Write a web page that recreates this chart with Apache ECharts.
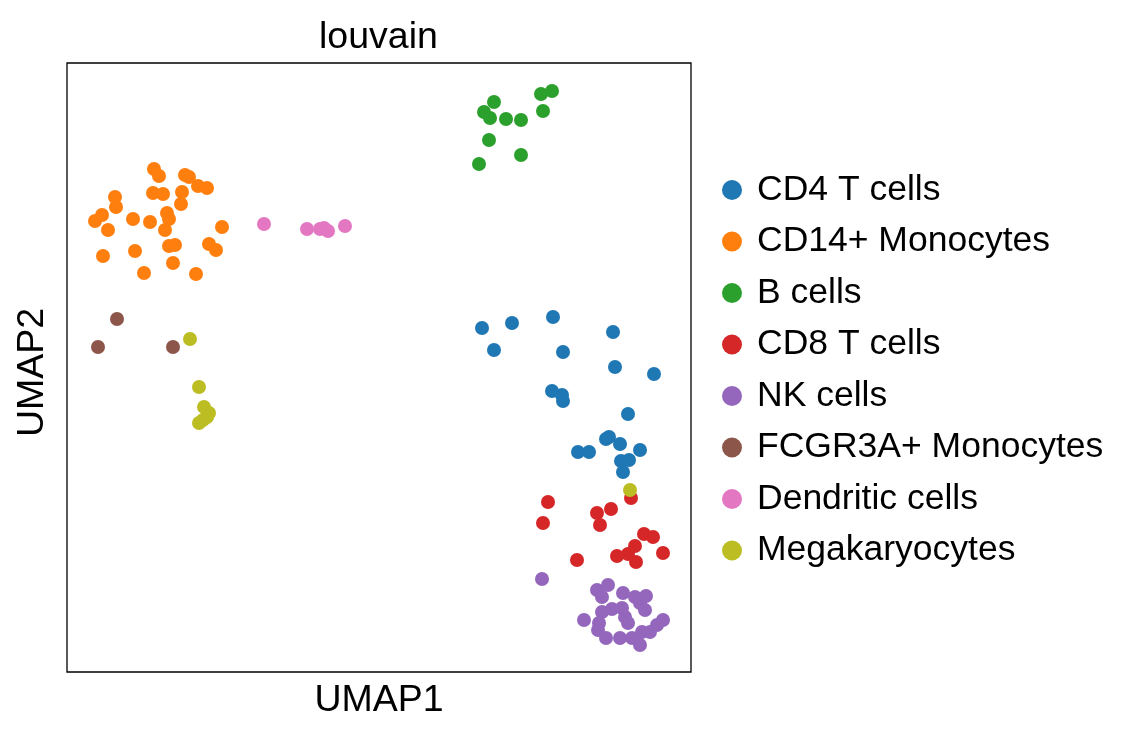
<!DOCTYPE html>
<html>
<head>
<meta charset="utf-8">
<title>louvain</title>
<script src="https://cdn.jsdelivr.net/npm/echarts@6/dist/echarts.min.js"></script>
<style>
html,body{margin:0;padding:0;background:#fff;}
#chart{width:1138px;height:739px;}
</style>
</head>
<body>
<div id="chart"></div>
<script>
// cluster names, in legend order
const clusters = ['CD4 T cells', 'CD14+ Monocytes', 'B cells', 'CD8 T cells',
  'NK cells', 'FCGR3A+ Monocytes', 'Dendritic cells', 'Megakaryocytes'];
const colors = ['#1f77b4', '#ff7f0e', '#2ca02c', '#d62728',
  '#9467bd', '#8c564b', '#e377c2', '#bcbd22'];

// embedding coordinates: [UMAP1, UMAP2]
const cd4T = [[482,328],[512,323],[553,317],[613,332],[494,350],[563,352],[615,367],[654,374],
  [552,391],[562,395],[563,401],[628,414],[606,439],[609,437],[620,444],[640,450],
  [578,452],[589,452],[621,461],[629,460],[623,472]];
const cd14Mono = [[154,169],[159,176],[185,175],[189,177],[198,186],[207,188],[115,197],[116,207],
  [153,193],[163,194],[182,192],[181,204],[102,215],[95,221],[108,230],[133,219],
  [150,222],[167,213],[169,219],[165,230],[222,227],[103,256],[135,251],[169,246],
  [175,245],[209,244],[216,250],[173,263],[144,273],[196,274]];
const bCells = [[494,102],[484,112],[490,118],[506,119],[521,120],[541,94],[552,91],[543,111],
  [489,140],[521,155],[479,164]];
const cd8T = [[548,502],[543,523],[597,513],[611,509],[600,525],[631,498],[644,534],[653,537],
  [635,546],[617,556],[628,554],[636,562],[663,553],[577,560]];
const nkCells = [[542,579],[597,590],[608,585],[602,597],[623,593],[635,597],[646,596],[640,603],
  [645,610],[602,612],[612,609],[622,608],[625,617],[628,623],[584,620],[599,623],
  [598,630],[606,638],[620,638],[632,638],[642,632],[640,645],[650,632],[657,625],[663,620]];
const fcgr3aMono = [[117,319],[98,347],[173,347]];
const dendritic = [[264,224],[307,229],[320,229],[324,228],[328,231],[345,226]];
const megakaryo = [[190,339],[199,387],[204,407],[209,413],[207,417],[199,423],[203,420],[630,490]];

const seriesData = [cd4T, cd14Mono, bCells, cd8T, nkCells, fcgr3aMono, dendritic, megakaryo];

const font = 'Arial, "Liberation Sans", sans-serif';
const chart = echarts.init(document.getElementById('chart'));
chart.setOption({
  animation: false,
  color: colors,
  title: {
    text: 'louvain',
    left: 314,
    top: 14,
    textStyle: {fontFamily: font, fontSize: 37.5, fontWeight: 'normal', color: '#000'}
  },
  legend: {
    orient: 'vertical',
    left: 717,
    top: 167,
    icon: 'circle',
    itemWidth: 20,
    itemHeight: 20,
    itemGap: 15.5,
    data: clusters,
    textStyle: {fontFamily: font, fontSize: 35.5, color: '#000', padding: [0, 0, 0, 10]}
  },
  grid: {
    left: 67,
    top: 63,
    width: 624,
    height: 609,
    show: true,
    borderColor: '#000',
    borderWidth: 1.3,
    backgroundColor: 'transparent'
  },
  xAxis: {
    type: 'value',
    min: 67,
    max: 691,
    name: 'UMAP1',
    nameLocation: 'middle',
    nameGap: 10,
    nameTextStyle: {fontFamily: font, fontSize: 37.5, color: '#000'},
    axisLine: {show: false},
    axisTick: {show: false},
    axisLabel: {show: false},
    splitLine: {show: false}
  },
  yAxis: {
    type: 'value',
    min: 63,
    max: 672,
    inverse: true,
    name: 'UMAP2',
    nameLocation: 'middle',
    nameGap: 15,
    nameTextStyle: {fontFamily: font, fontSize: 37.5, color: '#000', padding: [0, 10, 0, 0]},
    axisLine: {show: false},
    axisTick: {show: false},
    axisLabel: {show: false},
    splitLine: {show: false}
  },
  series: clusters.map((name, i) => ({
    name: name,
    type: 'scatter',
    symbol: 'circle',
    symbolSize: 14,
    itemStyle: {opacity: 1},
    emphasis: {disabled: true},
    data: seriesData[i]
  }))
});
</script>
</body>
</html>
